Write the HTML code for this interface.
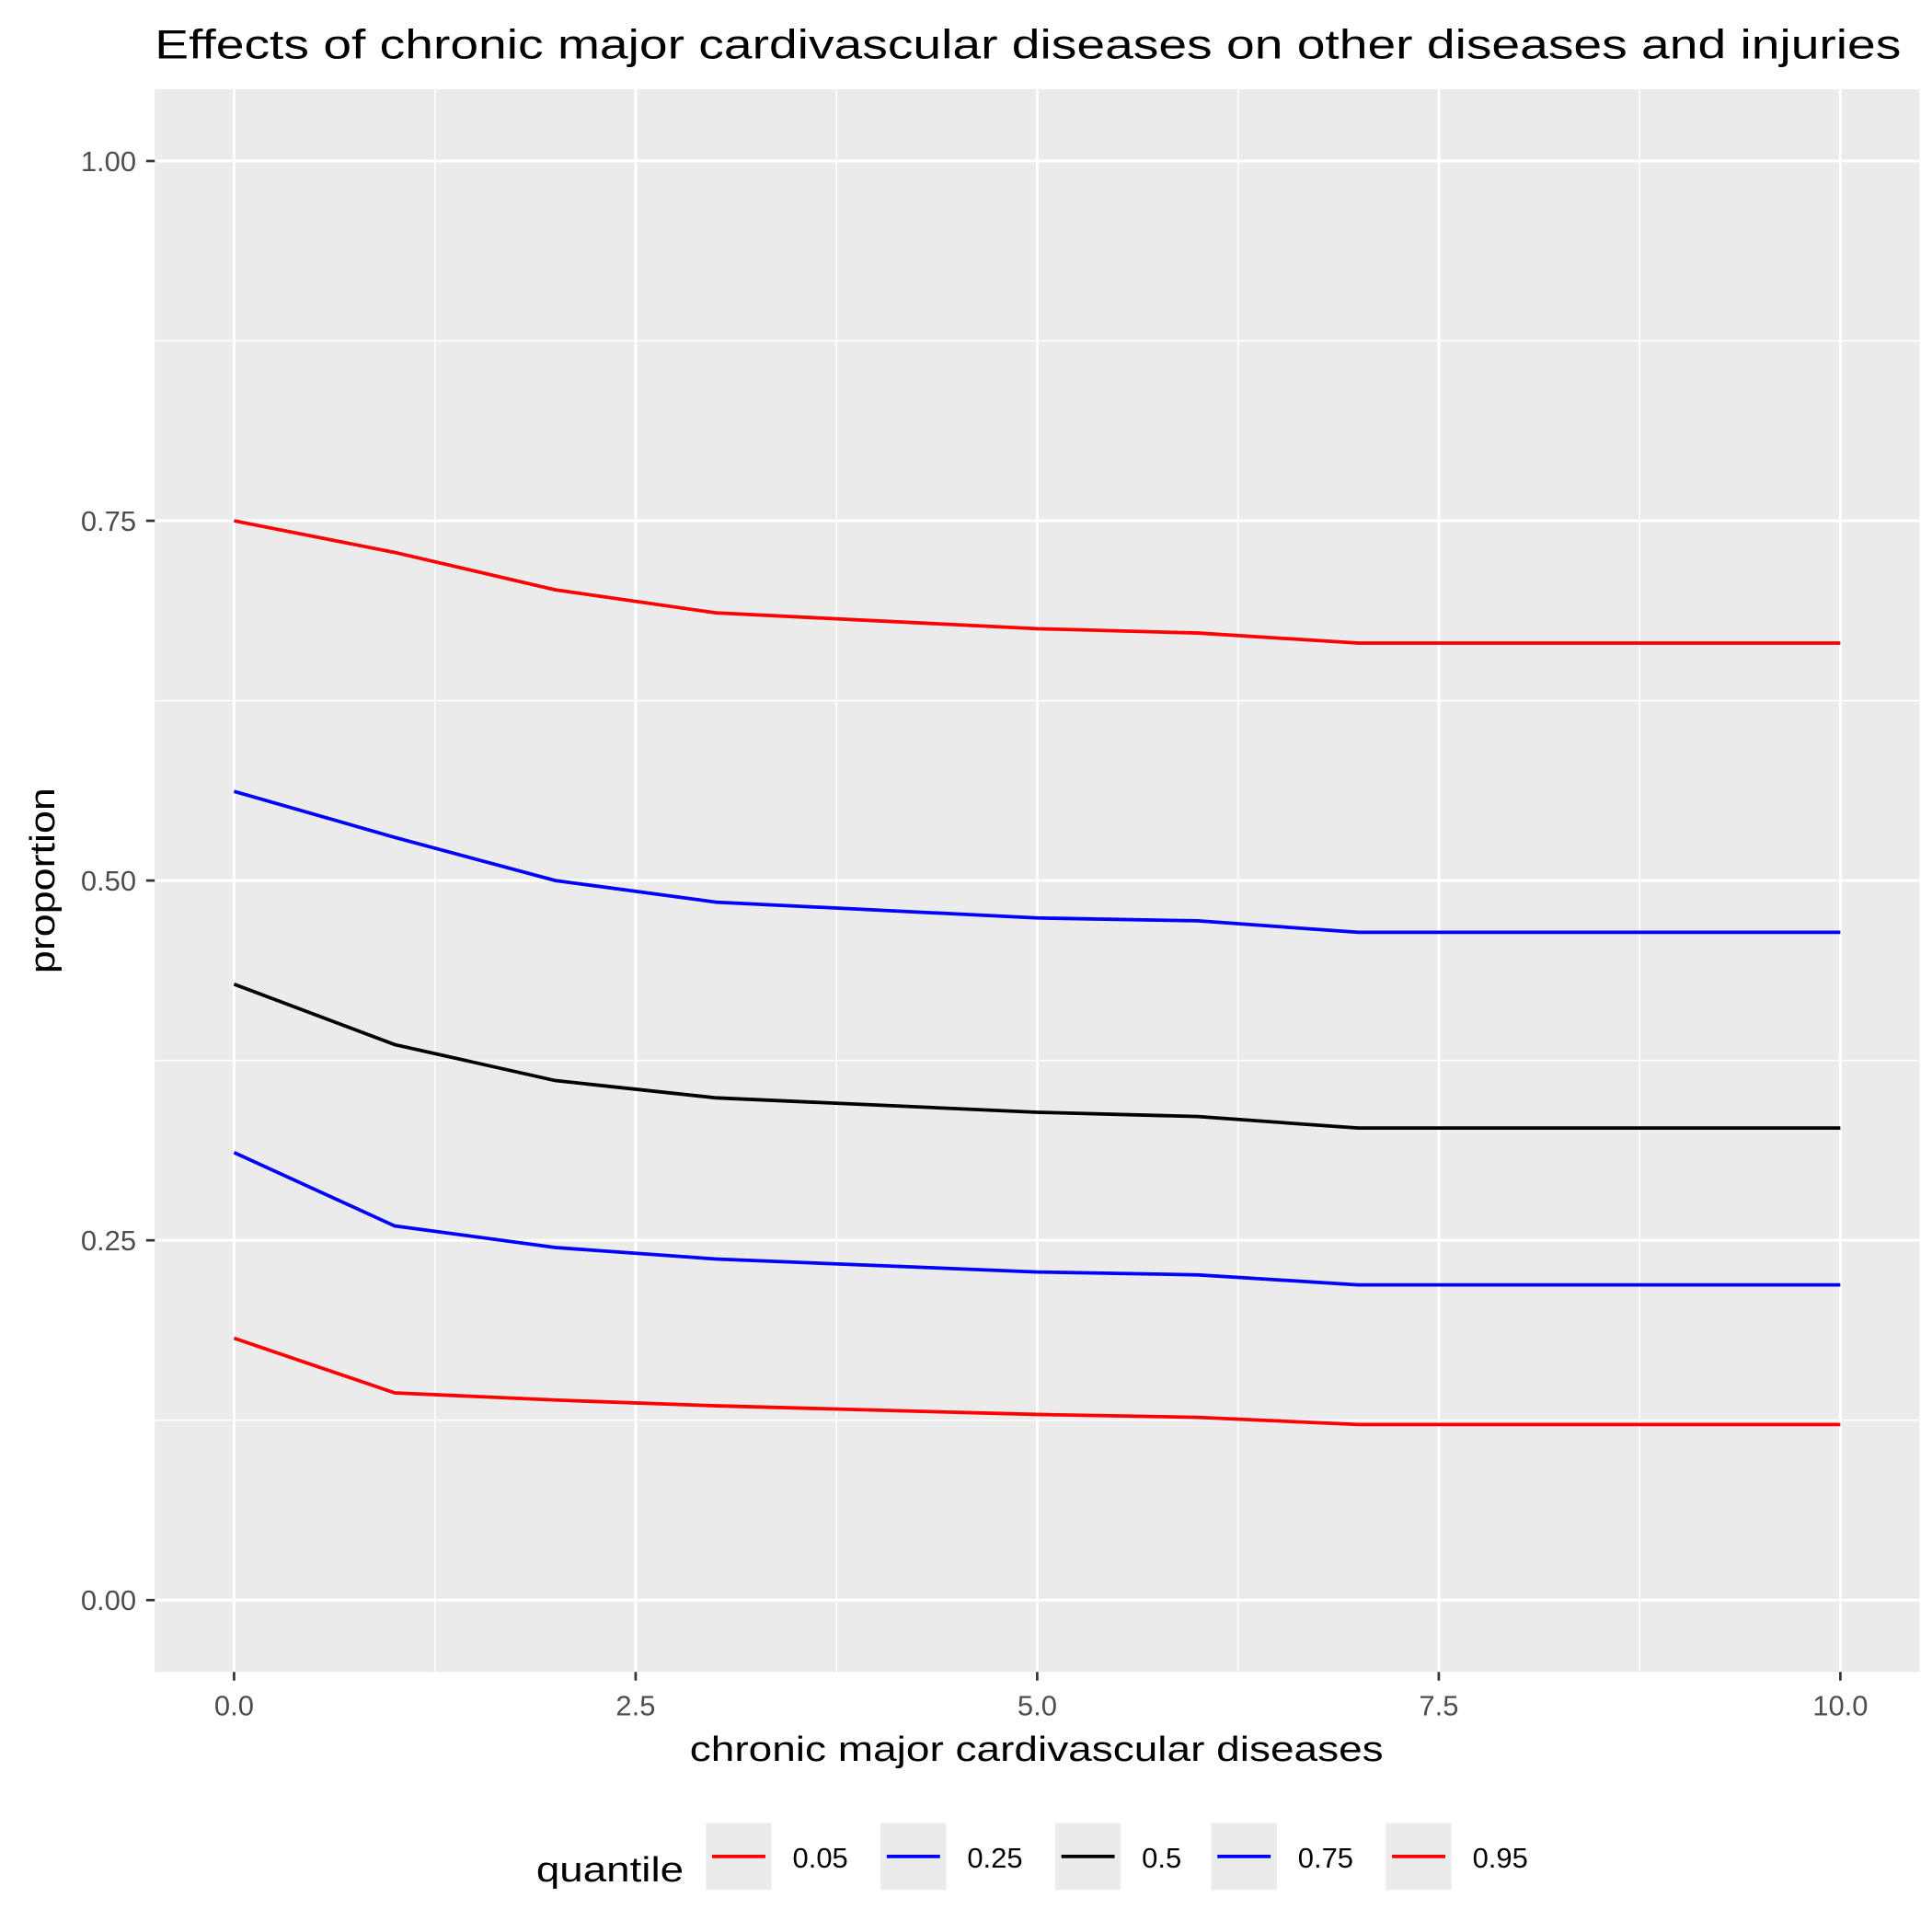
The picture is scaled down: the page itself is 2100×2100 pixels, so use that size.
<!DOCTYPE html>
<html><head><meta charset="utf-8"><style>body{margin:0;background:#fff}svg{display:block}text{font-family:"Liberation Sans",Arial,sans-serif}</style></head>
<body>
<svg id="chart" width="2100" height="2100" viewBox="0 0 1560 1560" xmlns="http://www.w3.org/2000/svg">
<text x="830" y="47" font-size="33" text-anchor="middle" fill="#000" textLength="1410" lengthAdjust="spacingAndGlyphs">Effects of chronic major cardivascular diseases on other diseases and injuries</text>
<rect x="125" y="72" width="1425" height="1278" fill="#ebebeb"/>
<g id="grid"></g>
<g id="series"></g>
<g id="axes"></g>
<text x="837" y="1422" font-size="28" text-anchor="middle" fill="#000" textLength="560" lengthAdjust="spacingAndGlyphs">chronic major cardivascular diseases</text>
<text transform="translate(44,711) rotate(-90)" font-size="28" text-anchor="middle" fill="#000" textLength="150" lengthAdjust="spacingAndGlyphs">proportion</text>
<g id="legend">
<text x="433" y="1519" font-size="28" fill="#000" textLength="119" lengthAdjust="spacingAndGlyphs">quantile</text>
</g>
</svg>
<script>
const xValues=[0,1,2,3,5,6,7,10];
const q05=[0.182,0.144,0.139,0.135,0.129,0.127,0.122,0.122];
const q25=[0.311,0.260,0.245,0.237,0.228,0.226,0.219,0.219];
const q50=[0.428,0.386,0.361,0.349,0.339,0.336,0.328,0.328];
const q75=[0.562,0.530,0.500,0.485,0.474,0.472,0.464,0.464];
const q95=[0.750,0.728,0.702,0.686,0.675,0.672,0.665,0.665];
const seriesNames=["0.05","0.25","0.5","0.75","0.95"];
const seriesColors=["#ff0000","#0000ff","#000000","#0000ff","#ff0000"];
const xTicks=[0,2.5,5,7.5,10];
const xTickLabels=["0.0","2.5","5.0","7.5","10.0"];
const yTicks=[0,0.25,0.5,0.75,1];
const yTickLabels=["0.00","0.25","0.50","0.75","1.00"];
const NS="http://www.w3.org/2000/svg";
const X=v=>189+v*(1486-189)/10;
const Y=v=>1292-v*(1292-130);
function mk(tag,attrs,parent){const e=document.createElementNS(NS,tag);for(const k in attrs)e.setAttribute(k,attrs[k]);parent.appendChild(e);return e;}
const grid=document.getElementById('grid'),axes=document.getElementById('axes'),ser=document.getElementById('series'),leg=document.getElementById('legend');
for(let i=0;i<yTicks.length-1;i++){const m=(yTicks[i]+yTicks[i+1])/2;const l=mk('line',{x1:125,x2:1550,y1:Y(m),y2:Y(m),stroke:'#fff','stroke-width':1.1},grid);}
for(let i=0;i<xTicks.length-1;i++){const m=(xTicks[i]+xTicks[i+1])/2;const l=mk('line',{y1:72,y2:1350,x1:X(m),x2:X(m),stroke:'#fff','stroke-width':1.1},grid);}
yTicks.forEach((t,i)=>{const l=mk('line',{x1:125,x2:1550,y1:Y(t),y2:Y(t),stroke:'#fff','stroke-width':2.2},grid);
const tk=mk('line',{x1:118,x2:125,y1:Y(t),y2:Y(t),stroke:'#333','stroke-width':2},axes);
const tx=mk('text',{x:110,y:Y(t)+8,'font-size':23,'text-anchor':'end',fill:'#4d4d4d'},axes);tx.textContent=yTickLabels[i];});
xTicks.forEach((t,i)=>{const l=mk('line',{y1:72,y2:1350,x1:X(t),x2:X(t),stroke:'#fff','stroke-width':2.2},grid);
const tk=mk('line',{y1:1350,y2:1357,x1:X(t),x2:X(t),stroke:'#333','stroke-width':2},axes);
const tx=mk('text',{x:X(t),y:1385,'font-size':23,'text-anchor':'middle',fill:'#4d4d4d'},axes);tx.textContent=xTickLabels[i];});
const allSeries=[q05,q25,q50,q75,q95];
allSeries.forEach((s,i)=>{const p=mk('polyline',{points:s.map((v,j)=>X(xValues[j])+','+Y(v)).join(' '),fill:'none',stroke:seriesColors[i],'stroke-width':2.8},ser);});
const keyX=[570,711,852,978,1119];
seriesNames.forEach((n,i)=>{const r=mk('rect',{x:keyX[i],y:1472,width:53,height:54,fill:'#ebebeb'},leg);
const l=mk('line',{x1:keyX[i]+5,x2:keyX[i]+48,y1:1499,y2:1499,stroke:seriesColors[i],'stroke-width':2.8},leg);
const t=mk('text',{x:keyX[i]+70,y:1508,'font-size':23,fill:'#000'},leg);t.textContent=n;});
</script>
</body></html>
